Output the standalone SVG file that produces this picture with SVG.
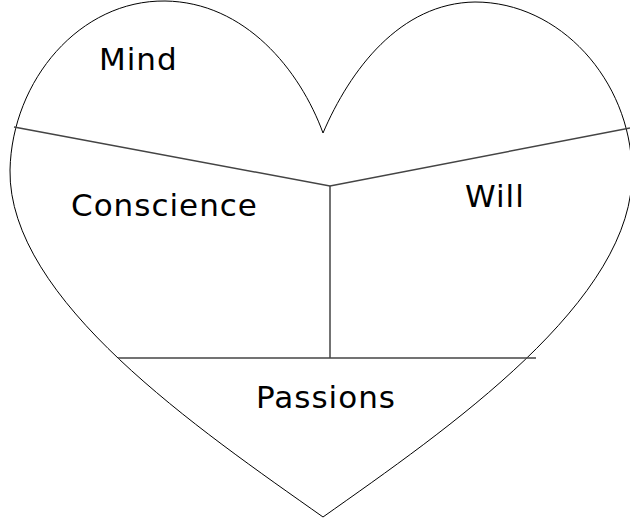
<svg xmlns="http://www.w3.org/2000/svg" width="630" height="518" viewBox="0 0 630 518">
<style>
.heart{fill:none;stroke:#000;stroke-width:1}
.div{fill:none;stroke:#444;stroke-width:1.5}
.lbl{font-family:"DejaVu Sans",Verdana,sans-serif;font-size:31px;letter-spacing:1px;fill:#000}
</style>
<rect width="630" height="518" fill="#fff"/>
<g id="heart">
<path class="heart" d="M323,133 C300,70 245,2 165,1 C80,0 12,80 10,170 C8,300 200,430 323,517 C446,430 636,300 632,170 C630,80 560,2 475,2 C400,3 350,70 323,133 Z"/>
</g>
<g id="connectors">
<polyline class="div" points="14,127 330,186 630,128"/>
<line class="div" x1="330" y1="186" x2="330" y2="358"/>
<line class="div" x1="118" y1="358" x2="536" y2="358"/>
</g>
<g id="mind"><text class="lbl" x="99" y="70">Mind</text></g>
<g id="conscience"><text class="lbl" x="71" y="216">Conscience</text></g>
<g id="will"><text class="lbl" x="465" y="207">Will</text></g>
<g id="passions"><text class="lbl" x="256" y="408">Passions</text></g>
</svg>
